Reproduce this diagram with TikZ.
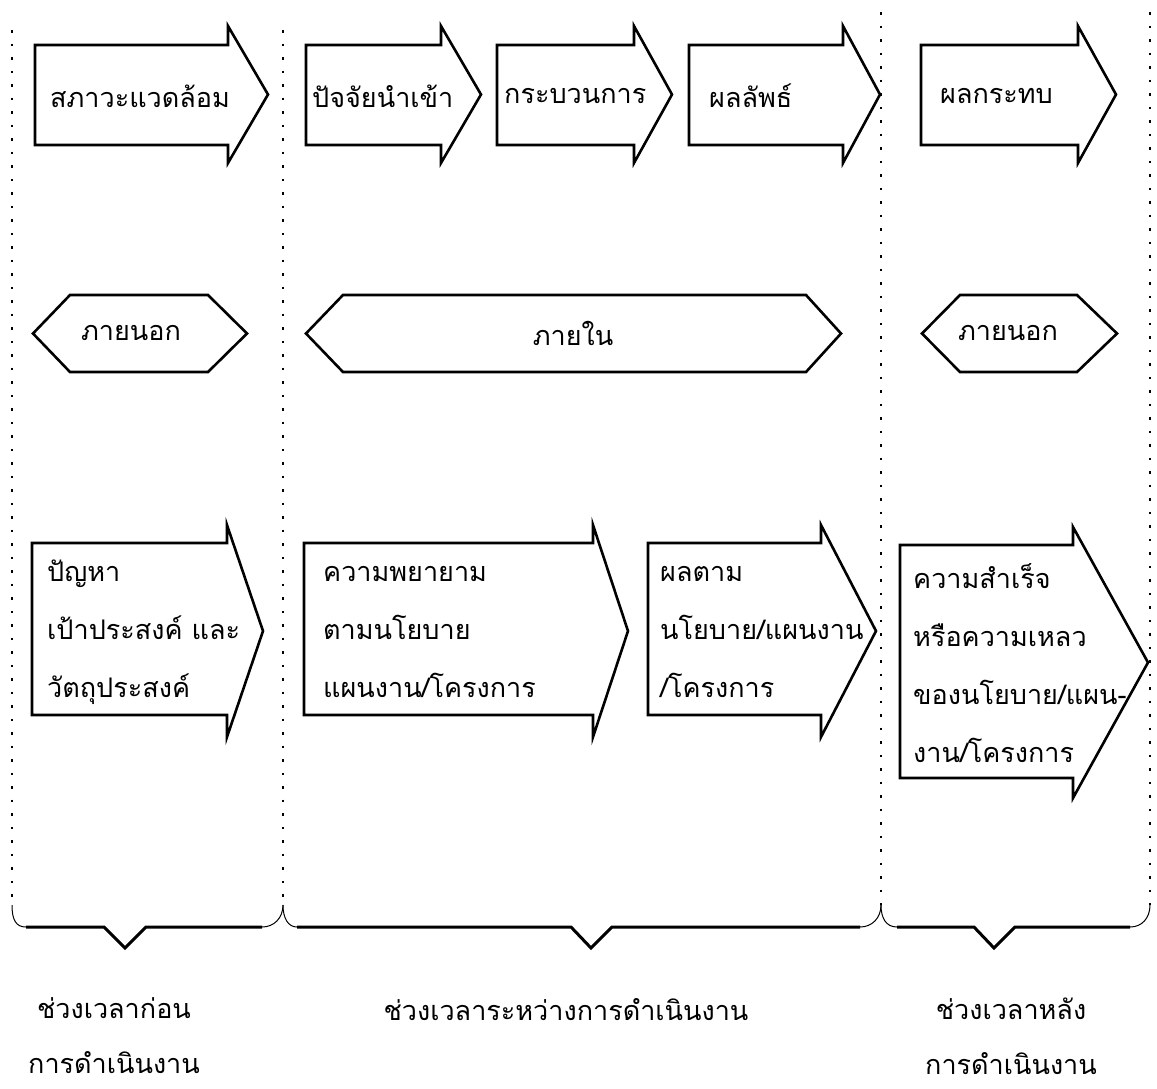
\documentclass[tikz,border=0pt]{standalone}
\usepackage{fontspec}
\newfontfamily\thaifont[Script=Thai]{Loma}
\begin{document}
\begin{tikzpicture}[x=1pt,y=-1pt,
  outline/.style={draw=black, line width=2.6pt, line join=miter, fill=white},
  thaitext/.style={font=\thaifont\fontsize{27}{58}\selectfont, inner sep=0pt, align=left},
  periodtext/.style={font=\thaifont\fontsize{27}{55}\selectfont, inner sep=0pt, align=center},
  divider/.style={line width=2.2pt, dash pattern=on 2.5pt off 11pt},
  bracketline/.style={line width=3pt, line join=miter},
  bracketend/.style={line width=1pt}]
\useasboundingbox[fill=white] (0,0) rectangle (1157,1088);

% block arrow: left x, head x, tip x, body top, body bottom, head top, head bottom
\newcommand\blockarrow[7]{%
  \draw[outline] (#1,#4) -- (#2,#4) -- (#2,#6) -- (#3,{(#6+#7)/2})
    -- (#2,#7) -- (#2,#5) -- (#1,#5) -- cycle;}
% hexagon: left point, inner left, inner right, right point, top, bottom
\newcommand\hexband[6]{%
  \draw[outline] (#1,{(#5+#6)/2}) -- (#2,#5) -- (#3,#5) -- (#4,{(#5+#6)/2})
    -- (#3,#6) -- (#2,#6) -- cycle;}

% dotted column dividers
\coordinate (d1t) at (12,30);   \coordinate (d1b) at (12,905);
\coordinate (d2t) at (283,30);  \coordinate (d2b) at (283,905);
\coordinate (d3t) at (881,12);  \coordinate (d3b) at (881,905);
\coordinate (d4t) at (1150,12); \coordinate (d4b) at (1150,905);
\foreach \d in {d1,d2,d3,d4} \draw[divider] (\d t) -- (\d b);

% top row: stages
\blockarrow{35}{228}{268}{45}{145}{26}{163}
\blockarrow{306}{441}{481}{45}{145}{26}{163}
\blockarrow{497}{634}{672}{45}{145}{26}{163}
\blockarrow{689}{843}{880}{45}{145}{26}{163}
\blockarrow{921}{1078}{1116}{45}{145}{26}{163}
\node[thaitext, anchor=west] (t1) at (50,96) {สภาวะแวดล้อม};
\node[thaitext, anchor=west] (t2) at (312,96) {ปัจจัยนำเข้า};
\node[thaitext, anchor=west] (t3) at (504,96) {กระบวนการ};
\node[thaitext, anchor=west] (t4) at (709,96) {ผลลัพธ์};
\node[thaitext, anchor=west] (t5) at (940,96) {ผลกระทบ};

% middle row: scope
\hexband{33}{70}{208}{247}{295}{372}
\hexband{306}{343}{806}{841}{295}{372}
\hexband{922}{960}{1077}{1117}{295}{372}
\node[thaitext] (m1) at (131,333) {ภายนอก};
\node[thaitext] (m2) at (573,333) {ภายใน};
\node[thaitext] (m3) at (1008,333) {ภายนอก};

% bottom row: contents
\blockarrow{32}{227}{263}{543}{715}{525}{737}
\blockarrow{304}{593}{628}{543}{715}{525}{737}
\blockarrow{648}{821}{876}{543}{715}{525}{737}
\blockarrow{900}{1073}{1148}{545}{778}{527}{798}
\node[thaitext, anchor=west] (b1) at (47,632) {ปัญหา\\เป้าประสงค์ และ\\วัตถุประสงค์};
\node[thaitext, anchor=west] (b2) at (323,632) {ความพยายาม\\ตามนโยบาย\\แผนงาน/โครงการ};
\node[thaitext, anchor=west] (b3) at (660,632) {ผลตาม\\นโยบาย/แผนงาน\\/โครงการ};
\node[thaitext, anchor=west] (b4) at (913,663) {ความสำเร็จ\\หรือความเหลว\\ของนโยบาย/แผน-\\งาน/โครงการ};

% brackets under the three periods
\draw[bracketend] (d1b) .. controls (12,920) and (16,927) .. (26,927);
\draw[bracketline] (26,927) -- (104,927) -- (125,948) -- (146,927) -- (262,927);
\draw[bracketend] (262,927) .. controls (274,927) and (283,918) .. (d2b);
\draw[bracketend] (d2b) .. controls (283,918) and (288,927) .. (297,927);
\draw[bracketline] (297,927) -- (571,927) -- (591,948) -- (612,927) -- (860,927);
\draw[bracketend] (860,927) .. controls (872,927) and (881,918) .. (d3b);
\draw[bracketend] (d3b) .. controls (881,918) and (886,927) .. (897,927);
\draw[bracketline] (897,927) -- (974,927) -- (994,948) -- (1015,927) -- (1130,927);
\draw[bracketend] (1130,927) .. controls (1142,927) and (1150,918) .. (d4b);

% period labels
\node[periodtext] (p1) at (114,1036) {ช่วงเวลาก่อน\\การดำเนินงาน};
\node[periodtext] (p2) at (566,1010) {ช่วงเวลาระหว่างการดำเนินงาน};
\node[periodtext] (p3) at (1011,1036) {ช่วงเวลาหลัง\\การดำเนินงาน};
\end{tikzpicture}
\end{document}
